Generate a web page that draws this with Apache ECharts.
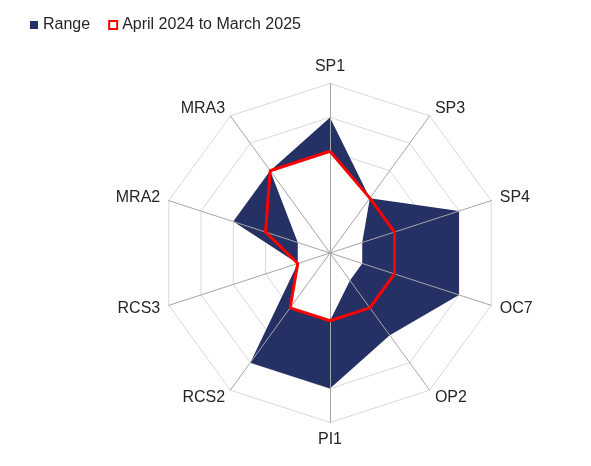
<!DOCTYPE html>
<html>
<head>
<meta charset="utf-8">
<script src="https://cdn.jsdelivr.net/npm/echarts@6/dist/echarts.min.js"></script>
<style>
html,body{margin:0;padding:0;background:#fff;}
#chart{width:591px;height:466px;}
</style>
</head>
<body>
<div id="chart"></div>
<script>
// Axes listed clockwise from the top, as in the picture
var categories = ['SP1', 'SP3', 'SP4', 'OC7', 'OP2', 'PI1', 'RCS2', 'RCS3', 'MRA2', 'MRA3'];
var rangeMax   = [4, 2, 4, 4, 3, 4, 4, 1, 3, 3];
var rangeMin   = [3, 2, 1, 1, 1, 2, 2, 1, 1, 3];
var actual     = [3, 2, 2, 2, 2, 2, 2, 1, 2, 3];
var axisMax = 5;
var rings = 5;

var rangeName = 'Range';
var actualName = 'April 2024 to March 2025';

// ECharts places radar indicators counter-clockwise; reorder so they read clockwise
function cw(arr) { return [arr[0]].concat(arr.slice(1).reverse()); }

var indicators = cw(categories).map(function (c) { return { name: c, min: 0, max: axisMax }; });

var NAVY = '#253165';
var RED = '#FF0000';
var FONT = 'Liberation Sans, Arial, sans-serif';
var CENTER = [330, 253];
var RADIUS = 169.5;

var chart = echarts.init(document.getElementById('chart'), null, { renderer: 'canvas' });
chart.setOption({
  animation: false,
  backgroundColor: '#fff',
  legend: {
    left: 30,
    top: 17,
    padding: 0,
    itemWidth: 8,
    itemHeight: 8,
    itemGap: 18,
    selectedMode: false,
    textStyle: { fontFamily: FONT, fontSize: 16, color: '#262626', padding: [0, 0, 0, 0] },
    data: [
      { name: rangeName, icon: 'rect', itemStyle: { color: NAVY, borderWidth: 0 } },
      { name: actualName, icon: 'rect', itemStyle: { color: '#fff', borderColor: RED, borderWidth: 2 } }
    ]
  },
  radar: [
    {
      center: CENTER,
      radius: RADIUS,
      shape: 'polygon',
      splitNumber: rings,
      startAngle: 90,
      nameGap: 9,
      z: 0,
      indicator: indicators,
      axisName: { color: '#262626', fontFamily: FONT, fontSize: 16 },
      axisLine: { show: false },
      splitLine: { lineStyle: { color: '#D9D9D9', width: 1 } },
      splitArea: { show: false },
      axisTick: { show: false },
      axisLabel: { show: false }
    },
    {
      center: CENTER,
      radius: RADIUS,
      shape: 'polygon',
      splitNumber: rings,
      startAngle: 90,
      z: 5,
      indicator: indicators,
      axisName: { show: false },
      axisLine: { show: true, lineStyle: { color: '#A6A6A6', width: 1 } },
      splitLine: { show: false },
      splitArea: { show: false },
      axisTick: { show: false },
      axisLabel: { show: false }
    }
  ],
  series: [
    {
      type: 'radar',
      name: rangeName,
      radarIndex: 0,
      z: 2,
      symbol: 'none',
      data: [{
        name: rangeName,
        value: cw(rangeMax),
        itemStyle: { color: NAVY },
        lineStyle: { width: 0, color: NAVY },
        areaStyle: { color: NAVY, opacity: 1 }
      }]
    },
    {
      type: 'radar',
      name: 'RangeLow',
      radarIndex: 0,
      z: 3,
      symbol: 'none',
      data: [{
        name: 'RangeLow',
        value: cw(rangeMin),
        itemStyle: { color: '#fff' },
        lineStyle: { width: 0, color: '#fff' },
        areaStyle: { color: '#fff', opacity: 1 }
      }]
    },
    {
      type: 'radar',
      name: actualName,
      radarIndex: 0,
      z: 10,
      symbol: 'none',
      data: [{
        name: actualName,
        value: cw(actual),
        itemStyle: { color: RED },
        lineStyle: { width: 3, color: RED },
        areaStyle: null
      }]
    }
  ]
});
</script>
</body>
</html>
